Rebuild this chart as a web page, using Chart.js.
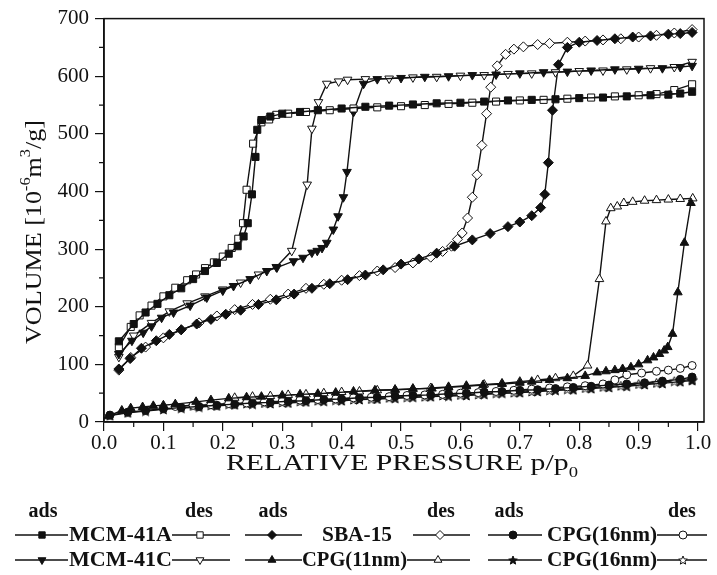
<!DOCTYPE html>
<html>
<head>
<meta charset="utf-8">
<script src="https://cdn.jsdelivr.net/npm/chart.js@4.4.1/dist/chart.umd.min.js"></script>
<style>
  html, body { margin: 0; padding: 0; background: #fff; }
  #wrap { width: 717px; height: 575px; }
</style>
</head>
<body>
<div id="wrap"><canvas id="isotherms" width="717" height="575"></canvas></div>
<script>
// Isothermes adsorption / desorption N2 - volume en fonction de p/p0

const xTicks = [0.0, 0.1, 0.2, 0.3, 0.4, 0.5, 0.6, 0.7, 0.8, 0.9, 1.0];
const yTicks = [0, 100, 200, 300, 400, 500, 600, 700];

// MCM-41A
const mcm41aAdsP = [0.025,0.05,0.07,0.09,0.11,0.13,0.15,0.17,0.19,0.21,0.225,0.235,0.242,0.249,0.255,0.258,0.265,0.28,0.30,0.33,0.36,0.40,0.44,0.48,0.52,0.56,0.60,0.64,0.68,0.72,0.76,0.80,0.84,0.88,0.92,0.95,0.97,0.99];
const mcm41aAdsV = [140,170,190,205,220,232,248,262,276,292,305,322,345,395,460,507,524,530,535,538,541,544,547,549,551,553,554,556,558,559,560,562,563,565,567,568,570,573];
const mcm41aDesP = [0.99,0.96,0.93,0.90,0.86,0.82,0.78,0.74,0.70,0.66,0.62,0.58,0.54,0.50,0.46,0.42,0.38,0.34,0.31,0.29,0.278,0.265,0.251,0.240,0.234,0.226,0.215,0.20,0.185,0.17,0.155,0.14,0.12,0.10,0.08,0.06,0.045,0.025];
const mcm41aDesV = [586,576,569,567,565,563,561,559,558,556,554,552,550,548,546,544,541,538,535,533,525,520,483,403,345,318,302,287,277,267,256,246,233,218,202,185,165,130];

// MCM-41C
const mcm41cAdsP = [0.025,0.047,0.066,0.08,0.097,0.117,0.145,0.173,0.2,0.218,0.246,0.274,0.291,0.319,0.335,0.35,0.359,0.367,0.375,0.386,0.394,0.403,0.409,0.42,0.437,0.46,0.5,0.54,0.58,0.62,0.66,0.70,0.74,0.78,0.82,0.86,0.90,0.94,0.97,0.99];
const mcm41cAdsV = [118,141,155,166,181,190,202,216,228,236,248,262,268,279,285,294,297,302,311,334,357,390,434,538,587,595,597,599,600,602,603,605,607,608,610,612,613,614,616,618];
const mcm41cDesP = [0.99,0.96,0.92,0.88,0.84,0.80,0.76,0.72,0.68,0.64,0.60,0.56,0.52,0.48,0.44,0.41,0.395,0.375,0.361,0.35,0.342,0.316,0.29,0.26,0.23,0.2,0.17,0.14,0.11,0.08,0.05,0.025];
const mcm41cDesV = [625,616,614,612,610,609,607,605,604,602,601,599,598,596,595,594,591,587,555,509,412,297,269,256,242,230,218,206,192,172,150,113];

// SBA-15
const sba15AdsP = [0.025,0.044,0.063,0.088,0.11,0.13,0.156,0.18,0.205,0.23,0.26,0.29,0.32,0.35,0.38,0.41,0.44,0.47,0.5,0.53,0.56,0.59,0.62,0.65,0.68,0.70,0.72,0.735,0.742,0.748,0.755,0.765,0.78,0.80,0.83,0.86,0.89,0.92,0.95,0.97,0.99];
const sba15AdsV = [92,110,128,141,152,160,170,178,187,194,204,212,222,232,240,247,255,264,274,283,293,305,316,327,339,347,358,372,395,450,541,620,650,659,662,665,668,670,673,674,676];
const sba15DesP = [0.99,0.96,0.93,0.90,0.87,0.84,0.81,0.78,0.75,0.73,0.706,0.69,0.676,0.662,0.651,0.644,0.636,0.628,0.62,0.612,0.603,0.595,0.585,0.57,0.55,0.52,0.49,0.46,0.43,0.40,0.37,0.34,0.31,0.28,0.25,0.22,0.19,0.16,0.13,0.10,0.07,0.045,0.025];
const sba15DesV = [681,675,671,668,665,663,661,659,657,655,651,647,638,618,581,535,480,429,390,354,328,317,305,296,286,276,268,262,254,246,239,232,222,213,204,195,184,172,160,146,130,112,90];

// CPG(11nm)
const cpg11AdsP = [0.007,0.03,0.045,0.065,0.083,0.1,0.12,0.155,0.18,0.21,0.24,0.265,0.3,0.33,0.36,0.39,0.42,0.456,0.49,0.52,0.552,0.58,0.61,0.638,0.67,0.70,0.72,0.75,0.78,0.81,0.83,0.845,0.86,0.873,0.887,0.9,0.915,0.925,0.935,0.943,0.949,0.957,0.966,0.977,0.988];
const cpg11AdsV = [10,20,24,26,28,29,31,35,38,41,43,44,46,48,49,51,53,55,56,58,58,60,62,64,66,68,70,73,76,80,86,88,90,92,95,100,107,112,118,124,130,153,225,311,380];
const cpg11DesP = [0.991,0.97,0.95,0.93,0.91,0.89,0.875,0.864,0.853,0.845,0.834,0.814,0.79,0.76,0.73,0.70,0.67,0.64,0.61,0.58,0.55,0.52,0.49,0.46,0.43,0.40,0.37,0.34,0.31,0.28,0.25,0.22];
const cpg11DesV = [388,387,386,385,384,382,380,374,371,348,248,98,80,76,73,70,67,65,63,61,59,57,56,55,53,52,50,48,47,45,44,42];

// CPG(16nm) - cercles
const cpg16aAdsP = [0.01,0.04,0.07,0.1,0.13,0.16,0.19,0.22,0.25,0.28,0.31,0.34,0.37,0.40,0.43,0.46,0.49,0.52,0.55,0.58,0.61,0.64,0.67,0.70,0.73,0.76,0.79,0.82,0.85,0.88,0.91,0.94,0.97,0.99];
const cpg16aAdsV = [12,17,20,23,25,27,29,31,33,34,36,37,39,40,42,43,45,46,47,49,50,52,53,55,56,58,60,62,64,66,68,71,74,78];
const cpg16aDesP = [0.99,0.97,0.95,0.93,0.905,0.88,0.86,0.84,0.81,0.78,0.75,0.72,0.69,0.66,0.63,0.60,0.57,0.54,0.51,0.48,0.45,0.42,0.39,0.36,0.33,0.30,0.27,0.24,0.21,0.18,0.15,0.12];
const cpg16aDesV = [98,93,90,88,85,82,73,66,63,61,59,57,55,53,51,50,48,47,46,44,43,42,40,39,38,36,35,33,32,30,29,27];

// CPG(16nm) - etoiles
const cpg16bAdsP = [0.01,0.04,0.07,0.1,0.13,0.16,0.19,0.22,0.25,0.28,0.31,0.34,0.37,0.40,0.43,0.46,0.49,0.52,0.55,0.58,0.61,0.64,0.67,0.70,0.73,0.76,0.79,0.82,0.85,0.88,0.91,0.94,0.97,0.99];
const cpg16bAdsV = [11,16,19,22,24,26,28,30,31,32,33,35,36,37,39,40,41,43,44,45,46,48,50,51,53,55,56,58,60,62,65,67,70,72];
const cpg16bDesP = [0.99,0.96,0.93,0.90,0.87,0.84,0.81,0.78,0.75,0.72,0.69,0.66,0.63,0.60,0.57,0.54,0.51,0.48,0.45,0.42,0.39,0.36,0.33,0.30,0.27,0.24,0.21,0.18,0.15];
const cpg16bDesV = [74,71,68,66,63,61,59,57,55,53,51,50,48,47,46,44,43,42,40,39,38,37,36,34,33,32,31,29,28];

const INK = '#111';
const SERIF = '"Liberation Serif", "DejaVu Serif", serif';

// etoile pleine / vide comme pointStyle (Chart.js n'a pas d'etoile pleine)
function makeStar(size, filled) {
    const c = document.createElement('canvas');
    c.width = size; c.height = size;
    const g = c.getContext('2d');
    const cx = size / 2, cy = size / 2 + 0.5, ro = size / 2 - 0.5, ri = ro * 0.45;
    g.beginPath();
    for (let i = 0; i < 10; i++) {
        const r = i % 2 ? ri : ro;
        const a = -Math.PI / 2 + i * Math.PI / 5;
        g.lineTo(cx + r * Math.cos(a), cy + r * Math.sin(a));
    }
    g.closePath();
    g.fillStyle = filled ? INK : '#fff';
    g.fill();
    g.strokeStyle = INK;
    g.lineWidth = 1;
    g.stroke();
    return c;
}
const starFilled = makeStar(11, true);
const starOpen = makeStar(11, false);
const starFilledSmall = makeStar(10, true);
const starOpenSmall = makeStar(10, false);

function pts(px, vy) {
    return px.map((p, i) => ({ x: p, y: vy[i] }));
}

function series(label, px, vy, style, filled, radius, rotation) {
    return {
        label: label,
        data: pts(px, vy),
        showLine: true,
        borderColor: INK,
        borderWidth: 1.4,
        pointStyle: style,
        pointRotation: rotation || 0,
        pointRadius: radius,
        pointBorderWidth: 1,
        pointBorderColor: INK,
        pointBackgroundColor: filled ? INK : '#fff',
        tension: 0
    };
}

const datasets = [
    series('MCM-41A ads', mcm41aAdsP, mcm41aAdsV, 'rect', true, 5),
    series('MCM-41A des', mcm41aDesP, mcm41aDesV, 'rect', false, 5),
    series('MCM-41C ads', mcm41cAdsP, mcm41cAdsV, 'triangle', true, 5, 180),
    series('MCM-41C des', mcm41cDesP, mcm41cDesV, 'triangle', false, 5, 180),
    series('SBA-15 ads', sba15AdsP, sba15AdsV, 'rectRot', true, 5),
    series('SBA-15 des', sba15DesP, sba15DesV, 'rectRot', false, 5),
    series('CPG(11nm) ads', cpg11AdsP, cpg11AdsV, 'triangle', true, 5),
    series('CPG(11nm) des', cpg11DesP, cpg11DesV, 'triangle', false, 5),
    series('CPG(16nm) ads', cpg16aAdsP, cpg16aAdsV, 'circle', true, 4),
    series('CPG(16nm) des', cpg16aDesP, cpg16aDesV, 'circle', false, 4),
    series('CPG(16nm) ads *', cpg16bAdsP, cpg16bAdsV, starFilled, true, 5),
    series('CPG(16nm) des *', cpg16bDesP, cpg16bDesV, starOpen, false, 5)
];

// texte avec exposants / indices, etire a la largeur voulue
function drawRich(ctx, parts, x, y, size, width) {
    const base = size + 'px ' + SERIF;
    const small = Math.round(size * 0.62) + 'px ' + SERIF;
    let total = 0;
    parts.forEach(p => {
        ctx.font = p.s ? small : base;
        total += ctx.measureText(p.t).width;
    });
    const k = width ? width / total : 1;
    ctx.save();
    ctx.translate(x, y);
    ctx.scale(k, 1);
    let cx = -total / 2;
    ctx.textAlign = 'left';
    ctx.textBaseline = 'alphabetic';
    parts.forEach(p => {
        ctx.font = p.s ? small : base;
        let dy = 0;
        if (p.s === 'sup') dy = -size * 0.45;
        if (p.s === 'sub') dy = size * 0.28;
        ctx.fillText(p.t, cx, dy);
        cx += ctx.measureText(p.t).width;
    });
    ctx.restore();
}

// texte legende etire a une largeur donnee
function fitText(ctx, text, x, y, width) {
    ctx.save();
    ctx.font = 'bold 20px ' + SERIF;
    ctx.textAlign = 'left';
    ctx.textBaseline = 'middle';
    const w = ctx.measureText(text).width;
    ctx.translate(x, y + 1);
    ctx.scale(width / w, 1);
    ctx.fillText(text, 0, 0);
    ctx.restore();
}

const decorPlugin = {
    id: 'decor',
    afterDraw(chart) {
        const ctx = chart.ctx;
        const area = chart.chartArea;
        const xs = chart.scales.x, ys = chart.scales.y;
        ctx.save();
        ctx.strokeStyle = INK;
        ctx.fillStyle = INK;

        // cadre
        ctx.lineWidth = 1.5;
        ctx.strokeRect(area.left, area.top, area.right - area.left, area.bottom - area.top);

        // petites graduations
        ctx.lineWidth = 1.2;
        ctx.beginPath();
        for (let i = 0; i < 10; i++) {
            const px = xs.getPixelForValue(0.05 + i * 0.1);
            ctx.moveTo(px, area.bottom);
            ctx.lineTo(px, area.bottom + 5);
        }
        for (let i = 0; i < 7; i++) {
            const py = ys.getPixelForValue(50 + i * 100);
            ctx.moveTo(area.left, py);
            ctx.lineTo(area.left - 5, py);
        }
        ctx.stroke();

        // titres des axes
        drawRich(ctx, [{ t: 'RELATIVE PRESSURE p/p' }, { t: '0', s: 'sub' }],
            402, 470, 24, 352);
        ctx.save();
        ctx.translate(41, 232);
        ctx.rotate(-Math.PI / 2);
        drawRich(ctx, [{ t: 'VOLUME [10' }, { t: '-6', s: 'sup' }, { t: 'm' }, { t: '3', s: 'sup' }, { t: '/g]' }],
            0, 0, 24, 224);
        ctx.restore();

        // legende
        ctx.font = 'bold 20px ' + SERIF;
        ctx.textAlign = 'center';
        ctx.textBaseline = 'alphabetic';
        [['ads', 43], ['des', 199], ['ads', 273], ['des', 441], ['ads', 509], ['des', 682]].forEach(h => {
            ctx.fillText(h[0], h[1], 517);
        });

        const rows = [
            { y: 535, items: [
                { x1: 15, x2: 68, m: 42, st: 'rect', f: true, r: 4.5 },
                { text: 'MCM-41A', x: 69, w: 103 },
                { x1: 172, x2: 230, m: 200, st: 'rect', f: false, r: 4.5 },
                { x1: 245, x2: 302, m: 272, st: 'rectRot', f: true, r: 4.5 },
                { text: 'SBA-15', x: 322, w: 70 },
                { x1: 413, x2: 470, m: 440, st: 'rectRot', f: false, r: 4.5 },
                { x1: 488, x2: 542, m: 513, st: 'circle', f: true, r: 4 },
                { text: 'CPG(16nm)', x: 547, w: 110 },
                { x1: 657, x2: 707, m: 683, st: 'circle', f: false, r: 4 }
            ] },
            { y: 560, items: [
                { x1: 15, x2: 68, m: 42, st: 'triangle', f: true, r: 4.5, rot: 180 },
                { text: 'MCM-41C', x: 69, w: 103 },
                { x1: 172, x2: 230, m: 200, st: 'triangle', f: false, r: 4.5, rot: 180 },
                { x1: 245, x2: 302, m: 272, st: 'triangle', f: true, r: 4.5 },
                { text: 'CPG(11nm)', x: 302, w: 105 },
                { x1: 407, x2: 470, m: 438, st: 'triangle', f: false, r: 4.5 },
                { x1: 488, x2: 542, m: 513, st: starFilledSmall, f: true, r: 4 },
                { text: 'CPG(16nm)', x: 547, w: 110 },
                { x1: 657, x2: 707, m: 683, st: starOpenSmall, f: false, r: 4 }
            ] }
        ];
        rows.forEach(row => {
            row.items.forEach(it => {
                if (it.text) {
                    ctx.fillStyle = INK;
                    fitText(ctx, it.text, it.x, row.y, it.w);
                    return;
                }
                ctx.lineWidth = 1.4;
                ctx.strokeStyle = INK;
                ctx.beginPath();
                ctx.moveTo(it.x1, row.y);
                ctx.lineTo(it.x2, row.y);
                ctx.stroke();
                ctx.fillStyle = it.f ? INK : '#fff';
                ctx.lineWidth = 1;
                Chart.helpers.drawPoint(ctx, { pointStyle: it.st, radius: it.r, rotation: it.rot || 0, borderWidth: 1 }, it.m, row.y);
            });
        });
        ctx.restore();
    }
};

new Chart(document.getElementById('isotherms'), {
    type: 'scatter',
    data: { datasets: datasets },
    options: {
        responsive: false,
        animation: false,
        devicePixelRatio: 1,
        layout: { padding: { top: 16, right: 13, left: 0, bottom: 0 } },
        plugins: {
            legend: { display: false },
            tooltip: { enabled: false }
        },
        scales: {
            x: {
                type: 'linear',
                min: 0,
                max: 1.01,
                afterBuildTicks: s => { s.ticks = xTicks.map(v => ({ value: v })); },
                afterFit: s => { s.height = 153; },
                ticks: {
                    callback: v => Number(v).toFixed(1),
                    font: { family: SERIF, size: 21 },
                    color: INK,
                    padding: 0,
                    maxRotation: 0,
                    autoSkip: false
                },
                grid: { drawOnChartArea: false, drawTicks: true, tickLength: 9, color: INK, lineWidth: 1.2 },
                border: { display: true, color: INK, width: 1.5 }
            },
            y: {
                min: 0,
                max: 700,
                afterBuildTicks: s => { s.ticks = yTicks.map(v => ({ value: v })); },
                afterFit: s => { s.width = 104; },
                ticks: {
                    font: { family: SERIF, size: 21 },
                    color: INK,
                    padding: 6,
                    autoSkip: false
                },
                grid: { drawOnChartArea: false, drawTicks: true, tickLength: 9, color: INK, lineWidth: 1.2 },
                border: { display: true, color: INK, width: 1.5 }
            }
        }
    },
    plugins: [decorPlugin]
});
</script>
</body>
</html>
